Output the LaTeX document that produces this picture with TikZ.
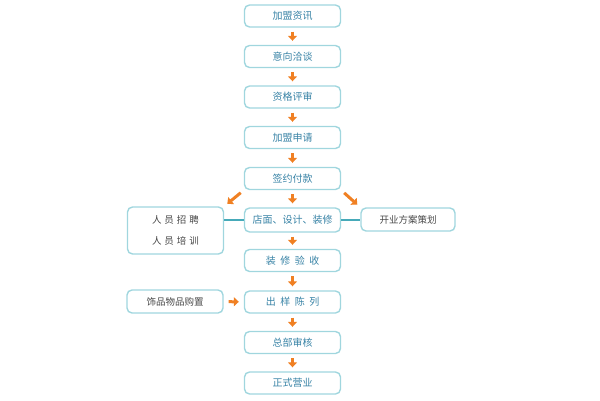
\documentclass[tikz,border=0pt]{standalone}
\usepackage{fontspec}
\newfontfamily\cjk{Noto Sans CJK SC}
\usetikzlibrary{arrows.meta}
\definecolor{boxline}{RGB}{160,214,222}
\definecolor{boxtext}{RGB}{55,130,165}
\definecolor{sidetext}{RGB}{70,70,70}
\definecolor{arrorange}{RGB}{240,128,35}
\definecolor{linkteal}{RGB}{70,170,185}

\begin{document}
\begin{tikzpicture}[x=1pt,y=-1pt,
		stage/.style={draw=boxline,line width=1.4pt,rounded corners=5pt,minimum width=96pt,minimum height=22pt,inner sep=0pt,font=\cjk\fontsize{10}{12}\selectfont,text=boxtext},
		side/.style={stage,text=sidetext},
		arr/.style={draw=arrorange,line width=3pt,-{Triangle[width=9pt,length=5pt]},shorten <=4pt,shorten >=4pt},
		link/.style={draw=linkteal,line width=1.2pt}]
				\useasboundingbox (0,0) rectangle (600,400);
				% main column
				\node[stage] (b1) at (292.5,16) {加盟资讯};
				\node[stage] (b2) at (292.5,56.5) {意向洽谈};
				\node[stage] (b3) at (292.5,97) {资格评审};
				\node[stage] (b4) at (292.5,137.5) {加盟申请};
				\node[stage] (b5) at (292.5,178.5) {签约付款};
				\node[stage,minimum height=24pt] (b6) at (292.5,220) {店面、设计、装修};
				\node[stage] (b7) at (292.5,260.5) {装\hspace{4.5pt}修\hspace{4.5pt}验\hspace{4.5pt}收};
				\node[stage] (b8) at (292.5,302) {出\hspace{4.5pt}样\hspace{4.5pt}陈\hspace{4.5pt}列};
				\node[stage] (b9) at (292.5,342.5) {总部审核};
				\node[stage] (b10) at (292.5,383) {正式营业};
				% side boxes
				\node[side,minimum height=47pt,align=center,font=\cjk\fontsize{9.5}{21}\selectfont] (staff) at (175.5,230.5) {人\hspace{3pt}员\hspace{3pt}招\hspace{3pt}聘\\人\hspace{3pt}员\hspace{3pt}培\hspace{3pt}训};
				\node[side,minimum width=94pt,minimum height=23pt,font=\cjk\fontsize{9.5}{11}\selectfont] (plan) at (408,219.5) {开业方案策划};
				\node[side,minimum height=23pt,font=\cjk\fontsize{9.5}{11}\selectfont] (deco) at (175,301.5) {饰品物品购置};
				% arrows
				\foreach \a/\b in {b1/b2,b2/b3,b3/b4,b4/b5,b5/b6,b6/b7,b7/b8,b8/b9,b9/b10}
					\draw[arr] (\a) -- (\b);
				\draw[arr] (b5.south west) -- (staff.north east);
				\draw[arr] (b5.south east) -- (plan.north west);
				\draw[arr,shorten <=5pt,shorten >=5pt] (deco) -- (b8);
				\draw[link] (b6.west) -- (b6.west -| staff.east);
				\draw[link] (b6.east) -- (b6.east -| plan.west);
			\end{tikzpicture}
\end{document}
